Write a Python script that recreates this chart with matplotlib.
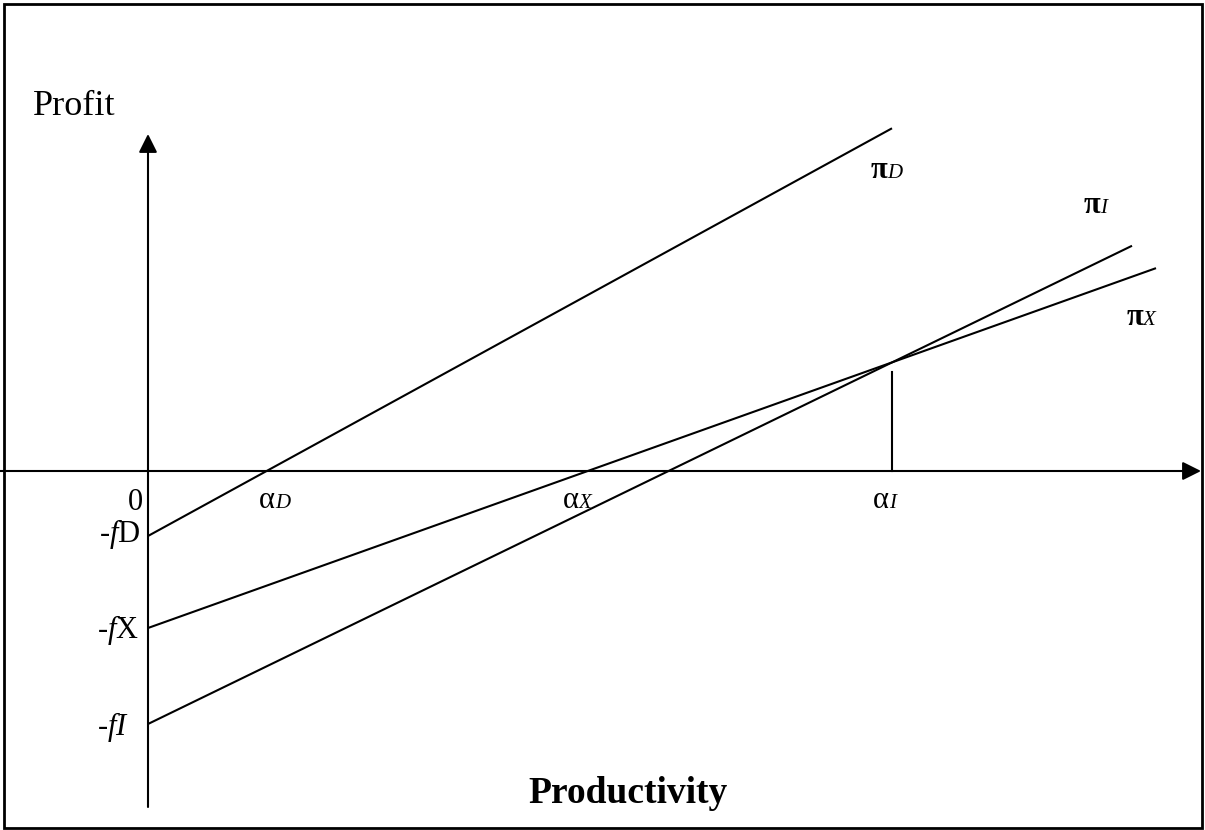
import matplotlib.pyplot as plt
from matplotlib.patches import Rectangle
import numpy as np

# Profit lines: profit = slope * productivity - fixed_cost
modes = ["D", "X", "I"]
fixed_cost = [0.65, 1.57, 2.53]
slope = [0.548, 0.357, 0.486]
x_end = [7.44, 10.08, 9.84]

W, H = 1205, 830
X0, Y0, UNIT = 148, 471, 100.0  # pixel position of origin, pixels per unit


def px(x, y):
    """Pixel position -> data coordinates."""
    return (x - X0) / UNIT, (Y0 - y) / UNIT


plt.rcParams["font.family"] = ["Liberation Serif", "DejaVu Serif"]
plt.rcParams["mathtext.fontset"] = "custom"
plt.rcParams["mathtext.rm"] = "Liberation Serif"
plt.rcParams["mathtext.it"] = "Liberation Serif:italic"

fig = plt.figure(figsize=(W / 100, H / 100), dpi=100)
ax = fig.add_axes([0, 0, 1, 1])
ax.set_xlim(px(0, 0)[0], px(W, 0)[0])
ax.set_ylim(px(0, H)[1], px(0, 0)[1])
ax.axis("off")

# outer frame
fig.patches.append(Rectangle((4 / W, 2 / H), 1198 / W, 824 / H, transform=fig.transFigure,
                             fill=False, edgecolor="black", linewidth=2))

# axes with arrows
arrow = dict(arrowstyle="-|>,head_length=0.8,head_width=0.4", mutation_scale=14,
             lw=1.5, color="black", shrinkA=0, shrinkB=0)
ax.annotate("", xy=px(1201, Y0), xytext=px(0, Y0), arrowprops=arrow)
ax.annotate("", xy=px(X0, 134), xytext=px(X0, 807), arrowprops=arrow)

# profit lines
for f, s, xe in zip(fixed_cost, slope, x_end):
    xs = np.array([0, xe])
    ax.plot(xs, s * xs - f, color="black", lw=1.5, solid_capstyle="butt")

# cut-off productivities
alpha_D = fixed_cost[0] / slope[0]
alpha_X = fixed_cost[1] / slope[1]
alpha_I = (fixed_cost[2] - fixed_cost[1]) / (slope[2] - slope[1])
y_int = slope[1] * alpha_I - fixed_cost[1]
ax.plot([alpha_I, alpha_I], [0, y_int - 0.1], color="black", lw=1.5)


def two_part(pos, main, sub, size, subsize, weight="normal"):
    x, y = px(*pos)
    ax.text(x, y, main, ha="right", va="baseline", fontsize=size, fontweight=weight)
    ax.text(x, y, sub, ha="left", va="baseline", fontsize=subsize, style="italic")


# alpha labels on x-axis
two_part((275, 508), "α", "D", 22, 15)
two_part((579, 508), "α", "X", 22, 15)
two_part((889, 508), "α", "I", 22, 15)

# pi labels
two_part((887, 178), "π", "D", 22, 15, "bold")
two_part((1100, 213), "π", "I", 22, 15, "bold")
two_part((1143, 325), "π", "X", 22, 15, "bold")

# intercept labels
ax.text(*px(143, 510), "0", ha="right", va="baseline", fontsize=22)
ax.text(*px(141, 542), "-$f$D", ha="right", va="baseline", fontsize=22)
ax.text(*px(139, 638), "-$f$X", ha="right", va="baseline", fontsize=22)
ax.text(*px(129, 735), "-$fI$", ha="right", va="baseline", fontsize=22)

ax.text(*px(33, 115), "Profit", ha="left", va="baseline", fontsize=26)
ax.text(*px(628, 803), "Productivity", ha="center", va="baseline", fontsize=27,
        fontweight="bold")

fig.savefig("out.png", dpi=100)
